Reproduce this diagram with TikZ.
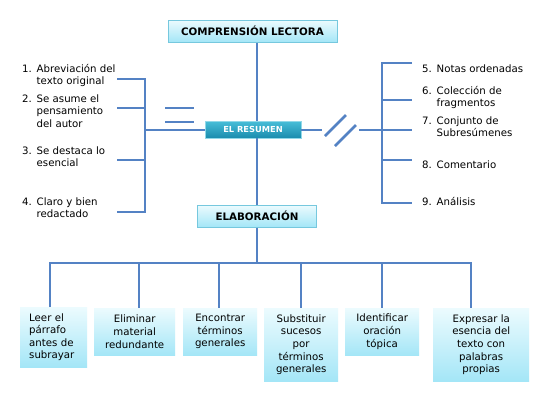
\documentclass[tikz,border=0pt]{standalone}
\usepackage{fontspec}
\setmainfont{DejaVu Sans}
\usepackage{xcolor}
\usetikzlibrary{positioning, calc}
\definecolor{LineBlue}{RGB}{84, 130, 196}
\definecolor{BoxTop}{RGB}{236, 251, 254}
\definecolor{BoxBot}{RGB}{164, 230, 247}
\definecolor{BoxEdge}{RGB}{118, 200, 222}
\definecolor{MainTop}{RGB}{72, 190, 216}
\definecolor{MainBot}{RGB}{26, 140, 174}
\newcommand{\numlbl}[2]{\makebox[14.5pt][l]{#1.}\begin{tabular}[t]{@{}l@{}}#2\end{tabular}}

\begin{document}
\begin{tikzpicture}[x=1pt, y=-1pt,
  head/.style={draw=BoxEdge, line width=1pt, top color=BoxTop, bottom color=BoxBot,
    inner sep=0pt, font=\bfseries\fontsize{10.3}{12}\selectfont},
  main/.style={draw=MainTop!60, line width=0.6pt, top color=MainTop, bottom color=MainBot,
    inner sep=0pt, text=white, font=\bfseries\fontsize{8.3}{10}\selectfont},
  leaf/.style={top color=BoxTop, bottom color=BoxBot, inner sep=0pt, anchor=north west,
    align=center, font=\fontsize{10.2}{12.6}\selectfont},
  lbl/.style={anchor=base west, inner sep=0pt, font=\fontsize{10.2}{12.5}\selectfont},
  conn/.style={LineBlue, line width=2.8pt}
]
\fill[white] (0,0) rectangle (550,400);

% titles
\node[head, minimum width=169pt, minimum height=22pt] (comp) at (252.5,31) {COMPRENSIÓN LECTORA};
\node[main, minimum width=96pt, minimum height=17pt] (res) at (253,129.5) {EL RESUMEN};
\node[head, minimum width=119pt, minimum height=22pt] (elab) at (257,216) {ELABORACIÓN};

\draw[conn] (comp.south -| 257,0) -- (res.north -| 257,0);
\draw[conn] (res.south -| 257,0) -- (elab.north -| 257,0);

% left branch
\node[lbl] (l1) at (22,72)  {\numlbl{1}{Abreviación del\\texto original}};
\node[lbl] (l2) at (22,102) {\numlbl{2}{Se asume el\\pensamiento\\del autor}};
\node[lbl] (l3) at (22,154) {\numlbl{3}{Se destaca lo\\esencial}};
\node[lbl] (l4) at (22,205) {\numlbl{4}{Claro y bien\\redactado}};

\coordinate (lt) at (145,79);
\coordinate (lb) at (145,212);
\draw[conn] (117,79) -- (lt) -- (lb) -- (117,212);
\draw[conn] (117,108) -- (145,108);
\draw[conn] (117,160) -- (145,160);
\draw[conn] (145,130) -- (res.west |- 145,130);
\draw[conn] (165,108) -- (194,108);
\draw[conn] (165,122) -- (194,122);

% right branch
\node[lbl] (r5) at (422,72)  {\numlbl{5}{Notas ordenadas}};
\node[lbl] (r6) at (422,94)  {\numlbl{6}{Colección de\\fragmentos}};
\node[lbl] (r7) at (422,124) {\numlbl{7}{Conjunto de\\Subresúmenes}};
\node[lbl] (r8) at (422,168) {\numlbl{8}{Comentario}};
\node[lbl] (r9) at (422,205) {\numlbl{9}{Análisis}};

\coordinate (rt) at (382,63);
\coordinate (rb) at (382,203);
\draw[conn] (412,63) -- (rt) -- (rb) -- (412,203);
\draw[conn] (382,100) -- (412,100);
\draw[conn] (382,160) -- (412,160);
\draw[conn] (359,130) -- (412,130);
\draw[conn] (res.east |- 301,130) -- (322,130);
\draw[conn] (325,136) -- (346,115);
\draw[conn] (335,146) -- (356,125);

% steps
\node[leaf, minimum width=67pt, minimum height=60pt, align=left, text width=49pt] (s1) at (20,307)
  {Leer el\\párrafo\\antes de\\subrayar};
\node[leaf, minimum width=81pt, minimum height=47pt] (s2) at (94,308) {Eliminar\\material\\redundante};
\node[leaf, minimum width=74pt, minimum height=47pt] (s3) at (183,308) {Encontrar\\términos\\generales};
\node[leaf, minimum width=74pt, minimum height=73pt] (s4) at (264,308) {Substituir\\sucesos\\por\\términos\\generales};
\node[leaf, minimum width=74pt, minimum height=47pt] (s5) at (345,308) {Identificar\\oración\\tópica};
\node[leaf, minimum width=96pt, minimum height=73pt] (s6) at (433,308) {Expresar la\\esencia del\\texto con\\palabras\\propias};

\coordinate (bus) at (257,263);
\draw[conn] (elab.south -| bus) -- (bus);
\draw[conn] (s1.north -| 50,0) -- (50,263) -- (471,263) -- (s6.north -| 471,0);
\foreach \n/\xx in {s2/139, s3/219, s4/301, s5/382}
  \draw[conn] (\xx,263) -- (\n.north -| \xx,0);
\end{tikzpicture}
\end{document}
